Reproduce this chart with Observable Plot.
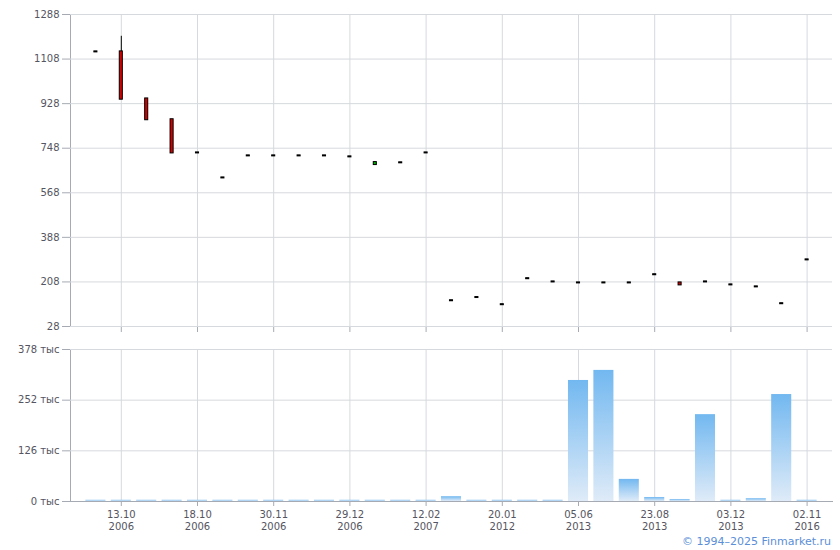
<!DOCTYPE html>
<html>
<head>
<meta charset="utf-8">
<script src="https://cdn.jsdelivr.net/npm/d3@7"></script>
<script src="https://cdn.jsdelivr.net/npm/@observablehq/plot@0.6"></script>
<style>
  html, body { margin: 0; padding: 0; background: #fff; }
  #wrap { position: relative; width: 840px; height: 550px; }
  #wrap svg { display: block; }
  #wrap svg text { fill: #55555f; }
  #copy { position: absolute; right: 9px; top: 535px; font: 11px "DejaVu Sans", sans-serif; color: #5b8fd8; }
</style>
</head>
<body>
<div id="wrap"></div>
<script>
// ---- data ----
const idx = d3.range(29);
const openP  = [1137, 1137, 947, 863, 729, 628, 717, 717, 717, 717, 713, 682, 689, 729, 132, 145, 116, 221, 208, 204, 204, 204, 237, 204, 208, 196, 188, 120, 297];
const closeP = [1137,  946, 863, 729, 729, 628, 717, 717, 717, 717, 713, 690, 689, 729, 132, 145, 116, 221, 208, 204, 204, 204, 237, 196, 208, 196, 188, 120, 297];
const highP  = [1137, 1200, 947, 863, 729, 628, 717, 717, 717, 717, 713, 690, 689, 729, 132, 145, 116, 221, 208, 204, 204, 204, 237, 204, 208, 196, 188, 120, 297];
const lowP   = [1137,  946, 863, 729, 729, 628, 717, 717, 717, 717, 713, 682, 689, 729, 132, 145, 116, 221, 208, 204, 204, 204, 237, 196, 208, 196, 188, 120, 297];
const volume = [3, 3, 3, 3, 3, 3, 3, 3, 3, 3, 3, 3, 3, 3, 12, 3, 3, 3, 3, 301, 326, 55, 10, 5, 216, 3, 7, 266, 3];
const tickIdx = [1, 4, 7, 10, 13, 16, 19, 22, 25, 28];
const tickLabels = ["13.10\n2006", "18.10\n2006", "30.11\n2006", "29.12\n2006", "12.02\n2007",
                    "20.01\n2012", "05.06\n2013", "23.08\n2013", "03.12\n2013", "02.11\n2016"];
const priceTicks = [28, 208, 388, 568, 748, 928, 1108, 1288];
const volTicks = [0, 126, 252, 378];

const font = "'DejaVu Sans', Verdana, sans-serif";
const gridColor = "#d6d9dd";
const axisColor = "#a6abb3";

const xScale = {type: "band", domain: idx, paddingInner: 0.21, paddingOuter: 0.605, align: 0.5, round: false,
                ticks: tickIdx, tickFormat: () => "", label: null};

const upper = Plot.plot({
  width: 840, height: 340,
  marginLeft: 70, marginRight: 8, marginTop: 14, marginBottom: 14,
  style: {fontFamily: font, fontSize: "10px", color: axisColor, background: "transparent", overflow: "visible"},
  x: {...xScale, tickSize: 6},
  y: {domain: [28, 1288], ticks: priceTicks, tickFormat: d3.format("d"), tickSize: 8, tickPadding: 3, label: null, line: true},
  marks: [
    Plot.ruleY(priceTicks, {stroke: gridColor}),
    Plot.ruleX(tickIdx, {stroke: gridColor}),
    Plot.ruleX(idx, {x: d => d, y1: i => lowP[i], y2: i => highP[i], stroke: "#000", strokeWidth: 1}),
    Plot.barY(idx, {
      x: d => d, y1: i => openP[i], y2: i => closeP[i],
      fill: i => closeP[i] < openP[i] ? "#d40000" : (closeP[i] > openP[i] ? "#00b000" : "#000"),
      stroke: "#000", strokeWidth: 1,
      insetLeft: 8.5, insetRight: 8.5, insetTop: -0.5, insetBottom: -0.5
    })
  ]
});

const lower = Plot.plot({
  width: 840, height: 210,
  marginLeft: 70, marginRight: 8, marginTop: 9, marginBottom: 49,
  style: {fontFamily: font, fontSize: "10px", color: axisColor, background: "transparent", overflow: "visible"},
  x: {...xScale, tickSize: 5, line: true},
  y: {domain: [0, 378], ticks: volTicks, tickFormat: d => d + " тыс", tickSize: 8, tickPadding: 3, label: null, line: true},
  marks: [
    Plot.ruleY(volTicks.slice(1), {stroke: gridColor}),
    Plot.ruleX(tickIdx, {stroke: gridColor}),
    Plot.barY(idx, {x: d => d, y: i => volume[i], fill: "url(#volgrad)"}),
    Plot.text(tickIdx, {x: d => d, text: (d, j) => tickLabels[j], frameAnchor: "bottom",
                        dy: 8, lineAnchor: "top", lineHeight: 1.18, fill: "#55555f", fontSize: 10})
  ]
});

d3.select(lower).insert("defs", ":first-child").html(
  `<linearGradient id="volgrad" x1="0" y1="0" x2="0" y2="1">
     <stop offset="0%" stop-color="#72b8f0"/>
     <stop offset="100%" stop-color="#dfebf8"/>
   </linearGradient>`);

const wrap = document.getElementById("wrap");
wrap.appendChild(upper);
wrap.appendChild(lower);
const copy = document.createElement("div");
copy.id = "copy";
copy.textContent = "© 1994–2025 Finmarket.ru";
wrap.appendChild(copy);
</script>
</body>
</html>
